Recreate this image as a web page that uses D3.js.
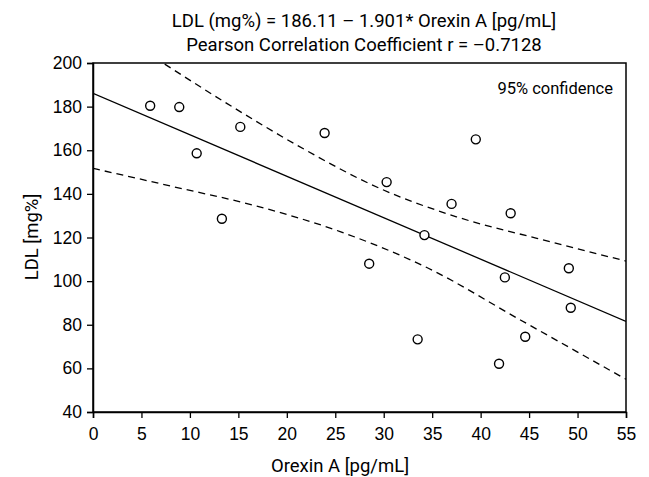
<!DOCTYPE html>
<html><head><meta charset="utf-8">
<script src="https://cdn.jsdelivr.net/npm/d3@7"></script>
<style>
body{margin:0;background:#fff;}
svg{font-family:"Liberation Sans Narrow","Arial Narrow","Roboto",sans-serif;}
</style></head>
<body><svg id="c" width="649" height="477"></svg>
<script>
// Data
const orexin = [5.9,8.9,10.7,13.3,15.2,23.9,28.5,30.3,33.5,34.2,39.5,37.0,43.1,42.5,49.1,49.3,44.6,41.9];
const ldl    = [180.4,179.8,158.6,128.6,170.7,167.9,108.0,145.4,73.3,121.1,165.0,135.4,131.1,101.7,105.9,87.8,74.5,62.1];
const fitX = [0,55];
const fitY = [186.11,81.55];
const upperX = [7.4,13.8,20.9,29.6,37.5,45.8,55];
const upperY = [199.5,181.5,162.7,142.5,129.5,119.6,109.2];
const lowerX = [0,8.3,16.9,25.5,34.6,44.1,55];
const lowerY = [151.7,143.3,134.4,122.7,105.9,82.2,55.0];
const xTicks = [0,5,10,15,20,25,30,35,40,45,50,55];
const yTicks = [40,60,80,100,120,140,160,180,200];
const titleLines = ["LDL (mg%) = 186.11 \u2013 1.901* Orexin A [pg/mL]","Pearson Correlation Coefficient r = \u20130.7128"];

const svg = d3.select("#c");
const L=93,R=626,T=63,B=412;
const x = d3.scaleLinear().domain([0,55]).range([L,R]);
const y = d3.scaleLinear().domain([40,200]).range([B,T]);

svg.append("defs").append("clipPath").attr("id","clip")
  .append("rect").attr("x",L).attr("y",T).attr("width",R-L).attr("height",B-T);

// box
svg.append("rect").attr("x",L).attr("y",T).attr("width",R-L).attr("height",B-T)
  .attr("fill","none").attr("stroke","#000").attr("stroke-width",1.5);

// axes
const xa = svg.append("g").attr("transform",`translate(0,${B})`)
  .call(d3.axisBottom(x).tickValues(xTicks).tickSize(6).tickPadding(10));
const ya = svg.append("g").attr("transform",`translate(${L},0)`)
  .call(d3.axisLeft(y).tickValues(yTicks).tickSize(6).tickPadding(5));
[xa,ya].forEach(a=>{
  a.select(".domain").attr("stroke","#000").attr("stroke-width",1.5);
  a.selectAll(".tick line").attr("stroke","#000").attr("stroke-width",1.3);
  a.selectAll("text").attr("font-size",17.5).attr("fill","#000").attr("font-family","inherit");
});

const g = svg.append("g").attr("clip-path","url(#clip)");
const line = d3.line().x(d=>x(d[0])).y(d=>y(d[1])).curve(d3.curveMonotoneX);
g.append("path").datum(fitX.map((v,i)=>[v,fitY[i]])).attr("d",line)
  .attr("fill","none").attr("stroke","#000").attr("stroke-width",1.3);
g.append("path").datum(upperX.map((v,i)=>[v,upperY[i]])).attr("d",line)
  .attr("fill","none").attr("stroke","#000").attr("stroke-width",1.3).attr("stroke-dasharray","7,5");
g.append("path").datum(lowerX.map((v,i)=>[v,lowerY[i]])).attr("d",line)
  .attr("fill","none").attr("stroke","#000").attr("stroke-width",1.3).attr("stroke-dasharray","7,5");

g.selectAll("circle").data(orexin.map((v,i)=>[v,ldl[i]])).enter().append("circle")
  .attr("cx",d=>x(d[0])).attr("cy",d=>y(d[1])).attr("r",4.5)
  .attr("fill","#fff").attr("stroke","#000").attr("stroke-width",1.4);

svg.append("text").attr("x",613).attr("y",94).attr("text-anchor","end")
  .attr("font-size",16.5).text("95% confidence");

svg.selectAll(".title").data(titleLines).enter().append("text")
  .attr("x",364).attr("y",(d,i)=>27+i*24).attr("text-anchor","middle")
  .attr("font-size",18.5).text(d=>d);

svg.append("text").attr("x",340).attr("y",472).attr("text-anchor","middle")
  .attr("font-size",18.5).text("Orexin A [pg/mL]");
svg.append("text").attr("transform","translate(38,237) rotate(-90)").attr("text-anchor","middle")
  .attr("font-size",18.5).text("LDL [mg%]");
</script></body></html>
